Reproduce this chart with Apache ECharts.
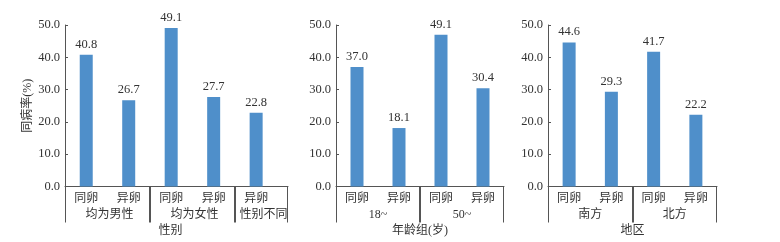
<!DOCTYPE html>
<html><head><meta charset="utf-8">
<script src="https://cdn.jsdelivr.net/npm/echarts@6/dist/echarts.min.js"></script>
<style>html,body{margin:0;padding:0;background:#fff}#c{width:780px;height:242px}</style>
</head><body><div id="c"></div>
<script>
// ---- data ----
const sexCategories = ['同卵', '异卵', '同卵', '异卵', '异卵'];
const sexValues = [40.8, 26.7, 49.1, 27.7, 22.8];
const sexLabels = ['40.8', '26.7', '49.1', '27.7', '22.8'];
const sexGroups = ['均为男性', '均为女性', '性别不同'];
const sexGroupSizes = [2, 2, 1];

const ageCategories = ['同卵', '异卵', '同卵', '异卵'];
const ageValues = [37.0, 18.1, 47.0, 30.4];
const ageLabels = ['37.0', '18.1', '49.1', '30.4'];
const ageGroups = ['18~', '50~'];
const ageGroupSizes = [2, 2];

const regionCategories = ['同卵', '异卵', '同卵', '异卵'];
const regionValues = [44.6, 29.3, 41.7, 22.2];
const regionLabels = ['44.6', '29.3', '41.7', '22.2'];
const regionGroups = ['南方', '北方'];
const regionGroupSizes = [2, 2];

const axisTitles = ['性别', '年龄组(岁)', '地区'];
const yAxisTitle = '同病率(%)';
const yMin = 0, yMax = 50, yStep = 10;

// ---- layout / style ----
const FONT = '"Liberation Serif", "Noto Sans CJK SC", serif';
const TEXT = '#333';
const LINE = '#555';
const BAR = '#4f8fca';
const panels = [
  { cats: sexCategories, vals: sexValues, labs: sexLabels, groups: sexGroups, sizes: sexGroupSizes, left: 65, width: 223, xMax: 5.25, titlePad: [0, 12, 0, 0] },
  { cats: ageCategories, vals: ageValues, labs: ageLabels, groups: ageGroups, sizes: ageGroupSizes, left: 336, width: 168, xMax: 4, titlePad: 0 },
  { cats: regionCategories, vals: regionValues, labs: regionLabels, groups: regionGroups, sizes: regionGroupSizes, left: 548, width: 169, xMax: 4, titlePad: 0 }
];

const grid = [], xAxis = [], yAxis = [], series = [];
panels.forEach((p, i) => {
  grid.push({ left: p.left, width: p.width, top: 25, height: 161.5, containLabel: false, outerBoundsMode: 'none' });
  xAxis.push({
    type: 'value', gridIndex: i, min: 0, max: p.xMax,
    axisLine: { show: true, lineStyle: { color: LINE } },
    axisTick: { show: false }, axisLabel: { show: false }, splitLine: { show: false },
    name: axisTitles[i], nameLocation: 'middle', nameGap: 38,
    nameTextStyle: { color: TEXT, fontSize: 12, fontFamily: FONT, padding: p.titlePad }
  });
  yAxis.push({
    type: 'value', gridIndex: i, min: yMin, max: yMax, interval: yStep,
    axisLine: { show: true, lineStyle: { color: LINE } },
    axisTick: { show: true, inside: true, length: 3, lineStyle: { color: LINE } },
    splitLine: { show: false },
    axisLabel: { color: TEXT, fontSize: 12.5, fontFamily: FONT, margin: 5, formatter: v => v.toFixed(1) },
    name: i === 0 ? yAxisTitle : '', nameLocation: 'middle', nameGap: 29, nameRotate: 90,
    nameTextStyle: { color: TEXT, fontSize: 12, fontFamily: FONT }
  });
  series.push({
    type: 'bar', xAxisIndex: i, yAxisIndex: i, barWidth: 13,
    data: p.vals.map((v, k) => [k + 0.5, v]),
    itemStyle: { color: BAR },
    label: { show: true, position: 'top', distance: 4, color: TEXT, fontSize: 12.5, fontFamily: FONT,
      formatter: prm => p.labs[prm.dataIndex] }
  });
  // category labels + small ticks
  series.push({
    type: 'custom', xAxisIndex: i, yAxisIndex: i, clip: false, silent: true,
    data: p.cats.map((c, k) => [k + 0.5, 0]),
    renderItem: (params, api) => {
      const pt = api.coord([api.value(0), 0]);
      const x = Math.round(pt[0]) + 0.5;
      return { type: 'group', children: [
        { type: 'text', x: pt[0], y: pt[1] + 12, style: { text: p.cats[params.dataIndex], align: 'center', verticalAlign: 'middle', fill: TEXT, font: '12px ' + FONT } },
        { type: 'line', shape: { x1: x, y1: pt[1], x2: x, y2: pt[1] - 3 }, style: { stroke: LINE, lineWidth: 1 } }
      ]};
    }
  });
  // group labels + dividers
  let start = 0;
  const gdata = p.groups.map((g, k) => {
    const s = start; start += p.sizes[k];
    const e = (k === p.groups.length - 1) ? p.xMax : start;
    return [s, e];
  });
  series.push({
    type: 'custom', xAxisIndex: i, yAxisIndex: i, clip: false, silent: true,
    data: gdata,
    renderItem: (params, api) => {
      const a = api.coord([api.value(0), 0]);
      const b = api.coord([api.value(1), 0]);
      const xa = Math.round(a[0]) + 0.5, xb = Math.round(b[0]) - 0.5;
      return { type: 'group', children: [
        { type: 'line', shape: { x1: xa, y1: a[1], x2: xa, y2: a[1] + 36 }, style: { stroke: LINE, lineWidth: 1 } },
        { type: 'line', shape: { x1: xb, y1: b[1], x2: xb, y2: b[1] + 36 }, style: { stroke: LINE, lineWidth: 1 } },
        { type: 'text', x: (a[0] + b[0]) / 2 + (i === 0 ? 2 : 0), y: a[1] + 28, style: { text: p.groups[params.dataIndex], align: 'center', verticalAlign: 'middle', fill: TEXT, font: '12px ' + FONT } }
      ]};
    }
  });
});

const chart = echarts.init(document.getElementById('c'), null, { renderer: 'canvas' });
chart.setOption({ animation: false, backgroundColor: '#fff', grid, xAxis, yAxis, series });
</script>
</body></html>
